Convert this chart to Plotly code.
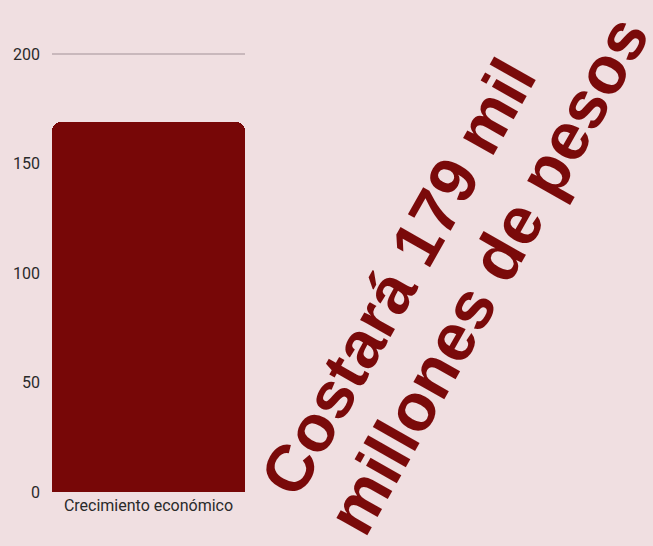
import plotly.graph_objects as go

categories = ["Crecimiento económico"]
values = [169]
tick_vals = [0, 50, 100, 150, 200]
tick_text = ["0", "50", "100", "150", "200"]
headline_lines = ["Costará 179 mil", "millones de pesos"]

bg = "#f0dfe1"
dark_red = "#770707"
text_red = "#7a0a0a"

L, R, T, B = 52, 408, 50, 54
W, H = 653, 546
PW, PH = W - L - R, H - T - B

fig = go.Figure(go.Bar(x=categories, y=values, marker_color=dark_red,
                       marker_line_width=0, width=1.0))
fig.update_layout(
    width=W, height=H,
    paper_bgcolor=bg, plot_bgcolor=bg,
    margin=dict(l=L, r=R, t=T, b=B),
    bargap=0, barcornerradius=9,
    showlegend=False,
    font=dict(family="Roboto", color="#2a2a2a", size=17),
)
fig.update_yaxes(range=[0, 202], tickvals=tick_vals, ticktext=tick_text,
                 showgrid=True, gridcolor="#c9b8bc", gridwidth=1.5,
                 zeroline=False, showline=False, ticks="", ticklabelstandoff=11,
                 tickfont=dict(size=16, color="#2a2a2a"))
fig.update_xaxes(showgrid=False, showline=False, ticks="", range=[-0.5, 0.5],
                 ticklabelstandoff=2,
                 tickfont=dict(size=16, color="#2a2a2a"))

# centre and size of each headline line, in page pixels
line_pos = [(398, 277), (487, 275)]
line_size = [66, 67]
for txt, (px, py), sz in zip(headline_lines, line_pos, line_size):
    fig.add_annotation(
        text=txt, xref="paper", yref="paper",
        x=(px - L) / PW, y=(H - B - py) / PH,
        xanchor="center", yanchor="middle", showarrow=False,
        textangle=-60.5,
        font=dict(family="Liberation Sans", size=sz, color=text_red, weight="bold"),
    )
fig.write_html("out.html", config={"displayModeBar": False},
               post_script="document.body.style.margin='0';document.body.style.background='%s';" % bg)
